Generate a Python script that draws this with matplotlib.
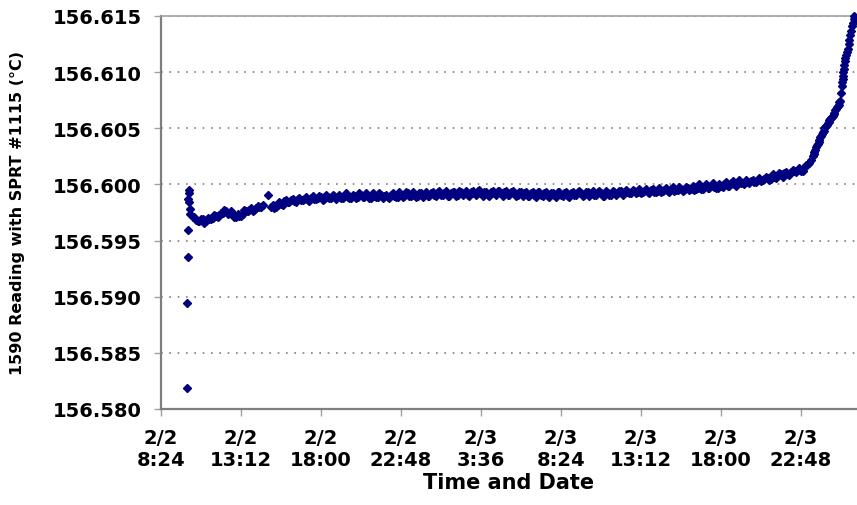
import matplotlib.pyplot as plt

# hours counted from 2/2 0:00
hours = [
    9.96, 9.98, 10.00, 10.02, 10.04, 10.06, 10.08, 10.10, 10.12, 10.14,
    10.3, 10.5, 10.7, 10.9, 11.1, 11.3, 11.5, 11.7, 11.9, 12.1,
    12.3, 12.5, 12.7, 12.9, 13.1, 13.3, 13.5, 13.7, 13.9, 14.1,
    14.3, 14.5, 14.8, 15.0, 15.2, 15.4, 15.6, 15.8, 16.0, 16.2,
    16.4, 16.6, 16.8, 17.0, 17.2, 17.4, 17.6, 17.8, 18.0, 18.2,
    18.4, 18.6, 18.8, 19.0, 19.2, 19.4, 19.6, 19.8, 20.0, 20.2,
    20.4, 20.6, 20.8, 21.0, 21.2, 21.4, 21.6, 21.8, 22.0, 22.2,
    22.4, 22.6, 22.8, 23.0, 23.2, 23.4, 23.6, 23.8, 24.0, 24.2,
    24.4, 24.6, 24.8, 25.0, 25.2, 25.4, 25.6, 25.8, 26.0, 26.2,
    26.4, 26.6, 26.8, 27.0, 27.2, 27.4, 27.6, 27.8, 28.0, 28.2,
    28.4, 28.6, 28.8, 29.0, 29.2, 29.4, 29.6, 29.8, 30.0, 30.2,
    30.4, 30.6, 30.8, 31.0, 31.2, 31.4, 31.6, 31.8, 32.0, 32.2,
    32.4, 32.6, 32.8, 33.0, 33.2, 33.4, 33.6, 33.8, 34.0, 34.2,
    34.4, 34.6, 34.8, 35.0, 35.2, 35.4, 35.6, 35.8, 36.0, 36.2,
    36.4, 36.6, 36.8, 37.0, 37.2, 37.4, 37.6, 37.8, 38.0, 38.2,
    38.4, 38.6, 38.8, 39.0, 39.2, 39.4, 39.6, 39.8, 40.0, 40.2,
    40.4, 40.6, 40.8, 41.0, 41.2, 41.4, 41.6, 41.8, 42.0, 42.2,
    42.4, 42.6, 42.8, 43.0, 43.2, 43.4, 43.6, 43.8, 44.0, 44.2,
    44.4, 44.6, 44.8, 45.0, 45.2, 45.4, 45.6, 45.8, 46.0, 46.2,
    46.4, 46.6, 46.8, 47.0, 47.2, 47.4,
    47.5, 47.55, 47.6, 47.65, 47.7, 47.75, 47.8, 47.85, 47.9, 47.95,
    48.0, 48.05, 48.1, 48.15, 48.2, 48.25, 48.3, 48.35, 48.4, 48.45,
    48.5, 48.55, 48.6, 48.65, 48.7, 48.75, 48.8, 48.85, 48.9, 48.95,
    49.0, 49.05, 49.1, 49.15, 49.22, 49.26, 49.28, 49.3, 49.32, 49.34,
    49.36, 49.38, 49.42, 49.46, 49.5, 49.55, 49.6, 49.65, 49.7, 49.75,
    49.8, 49.85, 49.9, 49.95, 50.0,
]

reading = [
    156.5819, 156.5894, 156.5935, 156.5959, 156.5987, 156.5995, 156.5992, 156.5984, 156.5978, 156.5974,
    156.5971, 156.5968, 156.5967, 156.5969, 156.5967, 156.5969, 156.5970, 156.5972, 156.5973, 156.5975,
    156.5976, 156.5975, 156.5974, 156.5971, 156.5972, 156.5974, 156.5976, 156.5977, 156.5976, 156.5979,
    156.5980, 156.5982, 156.5991, 156.5980, 156.5979, 156.5982, 156.5983, 156.5985, 156.5984, 156.5986,
    156.5985, 156.5987, 156.5986, 156.5987, 156.5986, 156.5988, 156.5987, 156.5988, 156.5989, 156.5987,
    156.5989, 156.5988, 156.5990, 156.5989, 156.5988, 156.5990, 156.5989, 156.5988, 156.5990, 156.5989,
    156.5991, 156.5989, 156.5990, 156.5988, 156.5990, 156.5989, 156.5991, 156.5990, 156.5989, 156.5991,
    156.5990, 156.5989, 156.5991, 156.5990, 156.5992, 156.5990, 156.5991, 156.5990, 156.5992, 156.5991,
    156.5990, 156.5992, 156.5991, 156.5993, 156.5991, 156.5992, 156.5990, 156.5992, 156.5993, 156.5991,
    156.5993, 156.5992, 156.5991, 156.5993, 156.5992, 156.5994, 156.5992, 156.5993, 156.5991, 156.5993,
    156.5992, 156.5994, 156.5992, 156.5993, 156.5991, 156.5993, 156.5992, 156.5991, 156.5993, 156.5992,
    156.5990, 156.5992, 156.5991, 156.5993, 156.5991, 156.5992, 156.5990, 156.5992, 156.5991, 156.5993,
    156.5991, 156.5992, 156.5990, 156.5992, 156.5991, 156.5993, 156.5992, 156.5991, 156.5993, 156.5992,
    156.5991, 156.5993, 156.5992, 156.5990, 156.5992, 156.5991, 156.5993, 156.5992, 156.5994, 156.5992,
    156.5993, 156.5992, 156.5994, 156.5993, 156.5992, 156.5994, 156.5993, 156.5995, 156.5993, 156.5994,
    156.5993, 156.5995, 156.5994, 156.5996, 156.5994, 156.5995, 156.5996, 156.5995, 156.5997, 156.5996,
    156.5995, 156.5997, 156.5996, 156.5998, 156.5997, 156.5999, 156.5998, 156.5997, 156.5999, 156.6000,
    156.5999, 156.6001, 156.6000, 156.6002, 156.6001, 156.6000, 156.6002, 156.6003, 156.6002, 156.6004,
    156.6003, 156.6005, 156.6006, 156.6005, 156.6007, 156.6008, 156.6009, 156.6010, 156.6009, 156.6011,
    156.6012, 156.6013, 156.6012, 156.6015, 156.6018, 156.6022,
    156.6025, 156.6027, 156.6029, 156.6031, 156.6033, 156.6035, 156.6036, 156.6038, 156.6040, 156.6042,
    156.6043, 156.6045, 156.6047, 156.6048, 156.6050, 156.6051, 156.6052, 156.6053, 156.6055, 156.6056,
    156.6057, 156.6058, 156.6059, 156.6060, 156.6061, 156.6063, 156.6064, 156.6066, 156.6067, 156.6069,
    156.6070, 156.6071, 156.6073, 156.6074, 156.6081, 156.6088, 156.6091, 156.6094, 156.6097, 156.6100,
    156.6103, 156.6106, 156.6110, 156.6113, 156.6115, 156.6118, 156.6121, 156.6125, 156.6129, 156.6133,
    156.6137, 156.6141, 156.6144, 156.6147, 156.6150,
]

# readings taken in between the ones above
hours_b = [
    10.4, 10.6, 10.8, 11.0, 11.2, 11.4, 11.6, 11.8, 12.0, 12.2,
    12.4, 12.6, 12.8, 13.0, 13.2, 13.4, 13.6, 13.8, 14.0, 14.2,
    14.4, 15.1, 15.3, 15.5, 15.7, 15.9, 16.1, 16.3, 16.5, 16.7,
    16.9, 17.1, 17.3, 17.5, 17.7, 17.9, 18.1, 18.3, 18.5, 18.7,
    18.9, 19.1, 19.3, 19.5, 19.7, 19.9, 20.1, 20.3, 20.5, 20.7,
    20.9, 21.1, 21.3, 21.5, 21.7, 21.9, 22.1, 22.3, 22.5, 22.7,
    22.9, 23.1, 23.3, 23.5, 23.7, 23.9, 24.1, 24.3, 24.5, 24.7,
    24.9, 25.1, 25.3, 25.5, 25.7, 25.9, 26.1, 26.3, 26.5, 26.7,
    26.9, 27.1, 27.3, 27.5, 27.7, 27.9, 28.1, 28.3, 28.5, 28.7,
    28.9, 29.1, 29.3, 29.5, 29.7, 29.9, 30.1, 30.3, 30.5, 30.7,
    30.9, 31.1, 31.3, 31.5, 31.7, 31.9, 32.1, 32.3, 32.5, 32.7,
    32.9, 33.1, 33.3, 33.5, 33.7, 33.9, 34.1, 34.3, 34.5, 34.7,
    34.9, 35.1, 35.3, 35.5, 35.7, 35.9, 36.1, 36.3, 36.5, 36.7,
    36.9, 37.1, 37.3, 37.5, 37.7, 37.9, 38.1, 38.3, 38.5, 38.7,
    38.9, 39.1, 39.3, 39.5, 39.7, 39.9, 40.1, 40.3, 40.5, 40.7,
    40.9, 41.1, 41.3, 41.5, 41.7, 41.9, 42.1, 42.3, 42.5, 42.7,
    42.9, 43.1, 43.3, 43.5, 43.7, 43.9, 44.1, 44.3, 44.5, 44.7,
    44.9, 45.1, 45.3, 45.5, 45.7, 45.9, 46.1, 46.3, 46.5, 46.7,
    46.9, 47.1, 47.3,
]

reading_b = [
    156.5971, 156.5967, 156.5969, 156.5966, 156.5970, 156.5969, 156.5973, 156.5971, 156.5975, 156.5977,
    156.5974, 156.5976, 156.5971, 156.5974, 156.5972, 156.5977, 156.5976, 156.5979, 156.5977, 156.5981,
    156.5980, 156.5982, 156.5980, 156.5984, 156.5982, 156.5986, 156.5984, 156.5987, 156.5984, 156.5988,
    156.5986, 156.5989, 156.5985, 156.5990, 156.5987, 156.5990, 156.5986, 156.5991, 156.5988, 156.5991,
    156.5987, 156.5991, 156.5988, 156.5992, 156.5988, 156.5991, 156.5988, 156.5992, 156.5989, 156.5992,
    156.5988, 156.5992, 156.5989, 156.5992, 156.5988, 156.5991, 156.5988, 156.5992, 156.5989, 156.5993,
    156.5989, 156.5993, 156.5990, 156.5993, 156.5989, 156.5992, 156.5989, 156.5993, 156.5990, 156.5993,
    156.5990, 156.5994, 156.5991, 156.5994, 156.5990, 156.5993, 156.5990, 156.5994, 156.5991, 156.5994,
    156.5990, 156.5994, 156.5991, 156.5995, 156.5990, 156.5993, 156.5990, 156.5994, 156.5991, 156.5994,
    156.5990, 156.5994, 156.5991, 156.5994, 156.5990, 156.5993, 156.5990, 156.5993, 156.5990, 156.5993,
    156.5989, 156.5993, 156.5990, 156.5993, 156.5989, 156.5992, 156.5989, 156.5993, 156.5990, 156.5993,
    156.5989, 156.5993, 156.5991, 156.5994, 156.5990, 156.5993, 156.5990, 156.5994, 156.5991, 156.5994,
    156.5990, 156.5994, 156.5991, 156.5994, 156.5991, 156.5994, 156.5991, 156.5995, 156.5992, 156.5995,
    156.5992, 156.5996, 156.5993, 156.5996, 156.5992, 156.5996, 156.5993, 156.5997, 156.5994, 156.5997,
    156.5993, 156.5998, 156.5995, 156.5998, 156.5994, 156.5998, 156.5995, 156.5999, 156.5996, 156.6000,
    156.5996, 156.6000, 156.5997, 156.6001, 156.5997, 156.6000, 156.5998, 156.6002, 156.5999, 156.6003,
    156.5999, 156.6004, 156.6001, 156.6004, 156.6001, 156.6004, 156.6002, 156.6006, 156.6004, 156.6007,
    156.6004, 156.6009, 156.6006, 156.6010, 156.6007, 156.6011, 156.6008, 156.6013, 156.6011, 156.6015,
    156.6012, 156.6017, 156.6019,
]

xticks = [8.4, 13.2, 18.0, 22.8, 27.6, 32.4, 37.2, 42.0, 46.8]
xticklabels = ["2/2\n8:24", "2/2\n13:12", "2/2\n18:00", "2/2\n22:48",
               "2/3\n3:36", "2/3\n8:24", "2/3\n13:12", "2/3\n18:00", "2/3\n22:48"]
yticks = [156.580, 156.585, 156.590, 156.595, 156.600, 156.605, 156.610, 156.615]

plt.rcParams['font.family'] = 'DejaVu Sans'
plt.rcParams['font.weight'] = 'bold'

fig = plt.figure(figsize=(8.57, 5.06), dpi=100)
ax = fig.add_axes([161/857, 1 - 410/506, 695/857, 393/506])

ax.plot(hours, reading, "D", color="#000080", ms=4.5, mec="#000080", clip_on=False, zorder=3)
ax.plot(hours_b, reading_b, "D", color="#000080", ms=4.5, mec="#000080", clip_on=False, zorder=3)

ax.set_xlim(8.4, 50.1)
ax.set_ylim(156.580, 156.615)
ax.set_xticks(xticks)
ax.set_xticklabels(xticklabels, fontsize=14, fontweight="bold")
ax.set_yticks(yticks)
ax.set_yticklabels(["%.3f" % v for v in yticks], fontsize=14, fontweight="bold")

ax.yaxis.grid(True, color="#808080", linestyle=(0, (1, 4)), linewidth=1.2)
ax.set_axisbelow(True)

for s in ["left", "bottom"]:
    ax.spines[s].set_color("#7f7f7f")
    ax.spines[s].set_linewidth(1.6)
ax.spines["top"].set_color("#a0a0a0")
ax.spines["top"].set_linewidth(1.2)
ax.spines["right"].set_visible(False)
ax.tick_params(axis="both", color="#a0a0a0", length=5, width=1, pad=9)

ax.set_xlabel("Time and Date", fontsize=15, fontweight="bold", labelpad=2)
ax.set_ylabel("1590 Reading with SPRT #1115 (°C)", fontsize=11.5, fontweight="bold")
ax.yaxis.set_label_coords(-136/695, 0.5)

fig.savefig("out.png", dpi=100)
